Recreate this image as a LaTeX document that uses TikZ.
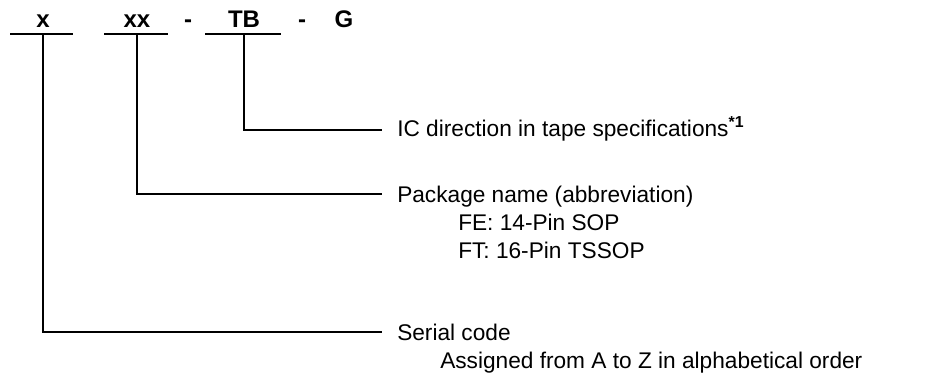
\documentclass[tikz,border=0pt]{standalone}
\usepackage{fontspec}
\setmainfont{Liberation Sans}
\begin{document}
\begin{tikzpicture}[x=0.75pt,y=-0.75pt,
  hdr/.style={inner sep=0pt,anchor=base,font=\fontsize{18}{21}\selectfont\bfseries},
  lbl/.style={inner sep=0pt,anchor=base west,font=\fontsize{17}{21}\selectfont},
  uline/.style={line width=1.3pt},
  conn/.style={line width=1.3pt}]
\useasboundingbox (0,0) rectangle (945,386);
% header
\node[hdr] (hx) at (43,27) {x};
\node[hdr] (hxx) at (137,27) {xx};
\node[hdr] (hd1) at (188,27) {-};
\node[hdr] (htb) at (244,27) {TB};
\node[hdr] (hd2) at (302,27) {-};
\node[hdr] (hg) at (344,27) {G};
% underlines
\draw[uline] (10,34) -- (73,34);
\draw[uline] (104,34) -- (168,34);
\draw[uline] (205,34) -- (281,34);
\coordinate (ux) at (43,34);
\coordinate (uxx) at (137,34);
\coordinate (utb) at (244,34);
% labels
\node[lbl] (ic) at (397,136) {IC direction in tape specifications\textsuperscript{\bfseries *1}};
\node[lbl] (pk) at (397,202) {Package name (abbreviation)};
\node[lbl] (fe) at (458,230) {FE: 14-Pin SOP};
\node[lbl] (ft) at (458,258) {FT: 16-Pin TSSOP};
\node[lbl] (sc) at (397,340) {Serial code};
\node[lbl] (as) at (440,368) {Assigned from A to Z in alphabetical order};
% connector ends
\coordinate (eic) at (382,130);
\coordinate (epk) at (382,194);
\coordinate (esc) at (382,332);
\draw[conn] (utb) |- (eic);
\draw[conn] (uxx) |- (epk);
\draw[conn] (ux) |- (esc);
\end{tikzpicture}
\end{document}
